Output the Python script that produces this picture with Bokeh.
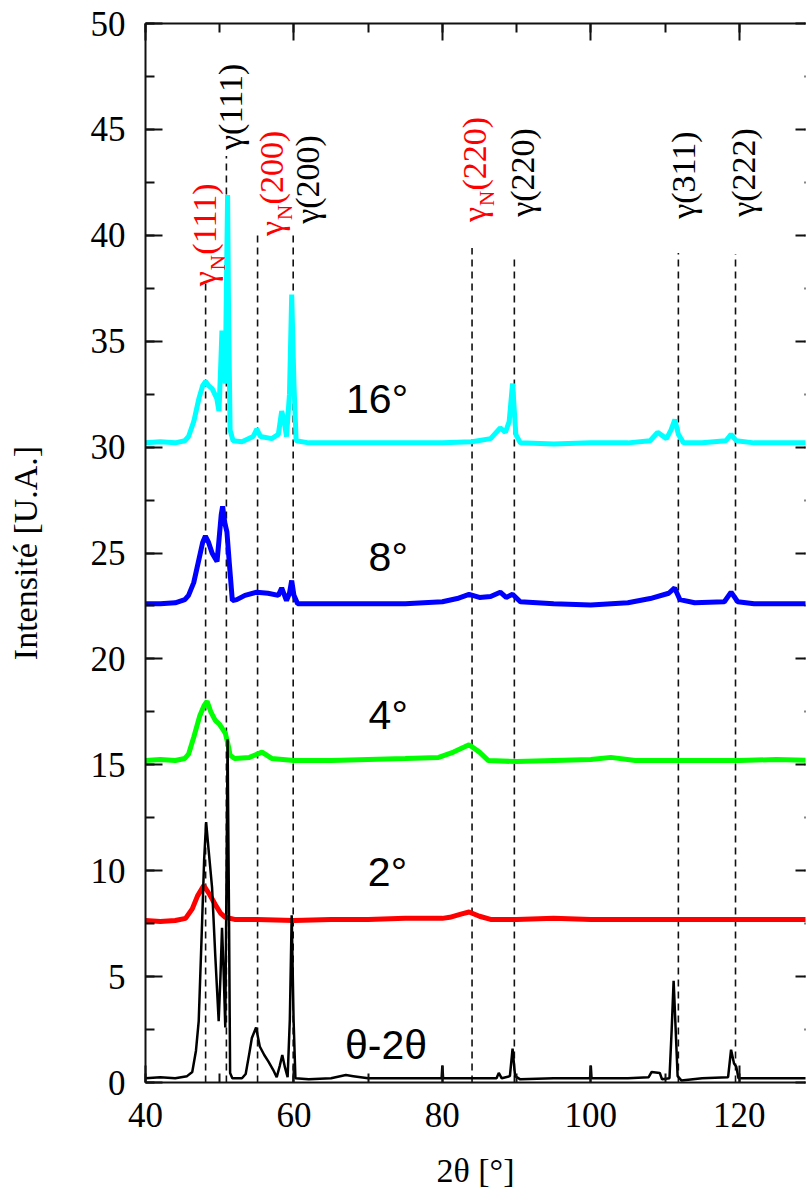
import math
from bokeh.plotting import figure
from bokeh.models import Range1d, LinearAxis, Label, SingleIntervalTicker, CustomLabelingPolicy
from bokeh.embed import file_html
from bokeh.resources import INLINE

# ---------------- data ----------------
two_theta_16 = [40, 42, 44, 45.3, 45.8, 46.5, 47.2, 47.7, 48.1, 48.5, 49.0, 49.6, 49.9, 50.1, 50.3,
                50.5, 50.75, 50.9, 51.06, 51.2, 51.4, 51.8, 53, 54.5, 55.0, 55.5, 57, 57.9, 58.35,
                58.7, 59.0, 59.4, 59.7, 60.0, 60.3, 62, 65, 70, 75, 80, 84, 86.5, 87.8, 88.5, 89.0,
                89.46, 89.9, 90.5, 95, 100, 105, 108, 109.0, 110.2, 110.8, 111.33, 111.8, 112.5,
                115, 118.2, 118.9, 119.6, 122, 126, 130]
intens_16 = [30.2, 30.25, 30.2, 30.3, 30.5, 31.2, 32.3, 32.9, 33.1, 32.9, 32.75, 32.3, 31.7, 33.5, 35.5,
             34.5, 33.0, 37.5, 41.9, 36.0, 30.8, 30.3, 30.25, 30.5, 30.85, 30.5, 30.4, 30.6, 31.7,
             31.2, 30.5, 32.5, 37.2, 33.0, 30.3, 30.2, 30.2, 30.2, 30.2, 30.2, 30.25, 30.4, 30.9, 30.7, 31.2,
             33.0, 30.6, 30.2, 30.15, 30.2, 30.2, 30.3, 30.7, 30.4, 30.8, 31.3, 30.6, 30.2,
             30.2, 30.3, 30.6, 30.3, 30.2, 30.2, 30.2]

two_theta_8 = [40, 42, 44, 45.3, 45.8, 46.5, 47.2, 47.7, 48.07, 48.5, 48.97, 49.3, 49.64, 49.9, 50.2,
               50.39, 50.7, 50.97, 51.3, 51.7, 52.3, 53.4, 55.0, 56.5, 57.9, 58.35, 59.0, 59.4, 59.7,
               60.0, 60.5, 65, 70, 75, 80, 82, 83.6, 85, 86.5, 87.8, 88.6, 89.46, 90.5, 95, 100, 105,
               108, 110.5, 111.3, 112, 114, 118, 118.9, 119.8, 122, 126, 130]
intens_8 = [22.6, 22.6, 22.65, 22.8, 23.0, 23.6, 24.7, 25.5, 25.8, 25.5, 25.0, 24.8, 24.6, 25.6, 26.8,
            27.2, 26.4, 26.0, 24.5, 22.75, 22.8, 23.0, 23.15, 23.1, 23.0, 23.35, 22.75, 23.1, 23.7,
            23.0, 22.6, 22.6, 22.6, 22.6, 22.7, 22.85, 23.05, 22.9, 22.95, 23.15, 22.9, 23.05, 22.7, 22.6, 22.55, 22.65,
            22.85, 23.1, 23.35, 22.8, 22.65, 22.7, 23.15, 22.7, 22.6, 22.6, 22.6]

two_theta_4 = [40, 42, 44, 45.3, 45.8, 46.5, 47.3, 47.9, 48.3, 48.8, 49.4, 50.0, 50.75, 51.1, 51.4,
               52, 54, 55.7, 57, 60, 65, 70, 75, 79.5, 81.5, 83.6, 85, 86.2, 90, 95, 100, 102.7,
               106, 110, 115, 120, 125, 130]
intens_4 = [15.2, 15.25, 15.2, 15.3, 15.5, 16.3, 17.3, 17.8, 18.0, 17.5, 17.1, 16.9, 16.5, 16.0, 15.45,
            15.3, 15.35, 15.6, 15.3, 15.2, 15.2, 15.25, 15.3, 15.35, 15.6, 15.95, 15.6, 15.2, 15.15, 15.2, 15.25, 15.35,
            15.2, 15.2, 15.2, 15.2, 15.25, 15.2]

two_theta_2 = [40, 42, 44, 45.4, 46.3, 47.0, 47.85, 48.6, 49.4, 50.1, 50.75, 52, 55, 60, 65, 70, 75,
               80, 81, 82.5, 83.6, 85, 86.5, 90, 95, 100, 105, 110, 115, 120, 125, 130]
intens_2 = [7.65, 7.6, 7.65, 7.75, 8.2, 8.8, 9.3, 8.9, 8.4, 8.0, 7.8, 7.7, 7.7, 7.65, 7.7, 7.7, 7.75,
            7.75, 7.8, 7.95, 8.05, 7.85, 7.7, 7.7, 7.75, 7.7, 7.7, 7.7, 7.7, 7.7, 7.7, 7.7]

two_theta_tt = [40, 42, 44, 45.6, 46.3, 46.8, 47.17, 47.63, 47.9, 48.17, 48.5, 48.97, 49.4, 49.86, 50.1,
                50.31, 50.55, 50.75, 50.9, 51.06, 51.25, 51.4, 51.7, 53.0, 53.5, 54.0, 54.33, 54.9,
                55.4, 56.0, 56.55, 57.2, 57.68, 58.1, 58.43, 58.8, 59.15, 59.45, 59.7, 59.95, 60.2,
                62, 65, 67, 68, 70, 75, 79.9, 80.0, 80.1, 85, 87.3, 87.6, 88.0, 89.1, 89.46, 89.8,
                90.5, 95, 99.9, 100.0, 100.1, 105, 107.8, 108.2, 109.3, 109.6, 110.6, 110.9, 111.16,
                111.4, 111.7, 112.2, 115, 118.5, 118.9, 119.3, 119.6, 119.9, 122, 126, 130]
intens_tt = [0.2, 0.25, 0.2, 0.3, 0.5, 1.5, 2.9, 7.6, 10.5, 12.3, 11.0, 9.2, 6.0, 2.9, 5.0,
             7.3, 5.0, 2.6, 9.0, 16.2, 8.0, 0.45, 0.2, 0.2, 0.4, 1.4, 2.1, 2.6,
             1.7, 1.3, 1.0, 0.6, 0.25, 0.8, 1.3, 0.7, 0.25, 3.0, 7.9, 3.0, 0.2,
             0.15, 0.2, 0.35, 0.3, 0.2, 0.2, 0.2, 0.8, 0.2, 0.2, 0.2, 0.45, 0.2, 0.3, 1.6, 0.3,
             0.15, 0.2, 0.2, 0.8, 0.2, 0.2, 0.25, 0.5, 0.45, 0.15, 0.2, 2.5, 4.8,
             2.8, 0.3, 0.1, 0.2, 0.25, 1.55, 0.9, 0.75, 0.2, 0.2, 0.2, 0.2]

# reference reflections (dashed markers)
peak_pos = [48.1, 50.9, 55.1, 59.9, 84.0, 89.7, 111.8, 119.5]
peak_top = [37.85, 43.75, 40.07, 40.07, 39.4, 38.93, 39.17, 39.12]
peak_phase = ["N", "", "N", "", "N", "", "", ""]
peak_hkl = ["(111)", "(111)", "(200)", "(200)", "(220)", "(220)", "(311)", "(222)"]

series_names = ["16°", "8°", "4°", "2°", "θ-2θ"]

y_ticks_step = 5
x_ticks_step = 20

# ---------------- figure ----------------
SERIF = "Liberation Serif"
SANS = "Liberation Sans"

p = figure(width=809, height=1200, x_range=Range1d(40, 128.93), y_range=Range1d(0, 50),
           output_backend="svg", toolbar_location=None,
           min_border_left=145, min_border_right=0, min_border_top=23, min_border_bottom=118,
           x_axis_label="2θ [°]", y_axis_label="Intensité [U.A.]")
p.grid.visible = False
p.outline_line_color = None
p.background_fill_color = "white"
p.border_fill_color = "white"

xt = SingleIntervalTicker(interval=x_ticks_step, num_minor_ticks=2)
yt = SingleIntervalTicker(interval=y_ticks_step, num_minor_ticks=2)

no_labels = CustomLabelingPolicy(code="return new Set()")

def style_axis(ax, tick_in, minor_in, labels=True):
    ax.axis_line_width = 2
    ax.axis_line_color = "#111111"
    ax.major_tick_in = tick_in
    ax.major_tick_out = 0
    ax.minor_tick_in = minor_in
    ax.minor_tick_out = 0
    ax.major_tick_line_width = 2
    ax.minor_tick_line_width = 2
    ax.major_tick_line_color = "#111111"
    ax.minor_tick_line_color = "#111111"
    if labels:
        ax.major_label_text_font = SERIF
        ax.major_label_text_font_size = "35px"
        ax.major_label_text_color = "black"
        ax.major_label_standoff = 20
        ax.axis_label_text_font = SERIF
        ax.axis_label_text_font_size = "34px"
        ax.axis_label_text_font_style = "normal"
        ax.axis_label_text_color = "black"
    else:
        ax.major_label_policy = no_labels
        ax.major_label_text_font_size = "1px"
        ax.major_label_standoff = 0

p.xaxis.ticker = xt
p.yaxis.ticker = yt
style_axis(p.xaxis[0], 17, 9)
style_axis(p.yaxis[0], 17, 9)
p.xaxis[0].axis_label_standoff = 22
p.yaxis[0].axis_label_standoff = 44

top_ax = LinearAxis(ticker=xt)
style_axis(top_ax, 17, 9, labels=False)
p.add_layout(top_ax, "above")

right_ax = LinearAxis(ticker=yt)
style_axis(right_ax, 10, 1, labels=False)
right_ax.axis_line_color = None
p.add_layout(right_ax, "right")

# dashed reflection markers
p.segment(x0=peak_pos, y0=[0] * len(peak_pos), x1=peak_pos, y1=peak_top,
          line_color="#111111", line_width=1.6, line_dash="7 5")

# curves
p.line(two_theta_16, intens_16, line_color="#00FFFF", line_width=5)
p.line(two_theta_8, intens_8, line_color="#0000FF", line_width=5)
p.line(two_theta_4, intens_4, line_color="#00FF00", line_width=5)
p.line(two_theta_2, intens_2, line_color="#FF0000", line_width=5)
p.line(two_theta_tt, intens_tt, line_color="#000000", line_width=2.5)

# peak labels (rotated, reading bottom to top)
label_start = [37.6, 44.03, 39.97, 40.54, 40.63, 40.87, 40.78, 40.87]
label_dx = [-1, 4, 14, 14, 2, 8, 5, 8]
GAMMA_W = 16
SUB_W = 15.5
for xp, ys, dx, ph, hkl in zip(peak_pos, label_start, label_dx, peak_phase, peak_hkl):
    col = "#FF0000" if ph else "#000000"
    common = dict(x=xp, y=ys, angle=math.pi / 2, text_font=SERIF, text_color=col,
                  text_align="left", text_baseline="alphabetic")
    if ph:
        p.add_layout(Label(text="γ", x_offset=dx, y_offset=0, text_font_size="34px", **common))
        p.add_layout(Label(text=ph, x_offset=dx + 13, y_offset=GAMMA_W, text_font_size="21px", **common))
        p.add_layout(Label(text=hkl, x_offset=dx, y_offset=GAMMA_W + SUB_W, text_font_size="34px", **common))
    else:
        p.add_layout(Label(text="γ" + hkl, x_offset=dx, y_offset=0, text_font_size="34px", **common))

# curve names
name_x = [71.2, 72.7, 72.7, 72.6, 72.4]
name_y = [32.28, 24.8, 17.37, 9.96, 1.79]
for nm, nx, ny in zip(series_names, name_x, name_y):
    p.add_layout(Label(x=nx, y=ny, text=nm, text_font=SANS, text_font_size="41px",
                       text_align="center", text_baseline="middle", text_color="black"))

open("out.html", "w").write(file_html(p, INLINE))
